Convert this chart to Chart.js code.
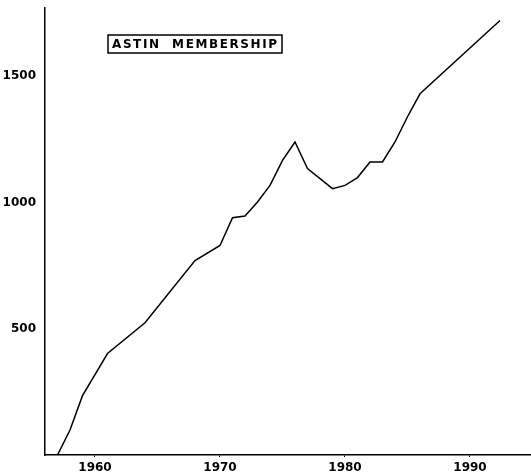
<!DOCTYPE html>
<html>
<head>
<meta charset="utf-8">
<script src="https://cdn.jsdelivr.net/npm/chart.js@4"></script>
<style>
  html, body { margin: 0; padding: 0; background: #fff; }
  #wrap { width: 531px; height: 472px; position: relative; }
</style>
</head>
<body>
<div id="wrap"><canvas id="chart"></canvas></div>
<script>
// ASTIN membership by year
const years = [1957, 1958, 1959, 1961, 1964, 1968, 1970, 1971, 1972, 1973, 1974, 1975, 1976, 1977, 1979, 1980, 1981, 1982, 1983, 1984, 1985, 1986, 1992.4];
const members = [0, 99, 235, 402, 524, 770, 830, 940, 947, 1002, 1068, 1167, 1240, 1135, 1055, 1068, 1099, 1161, 1161, 1240, 1340, 1431, 1721];

const xTicks = [1960, 1970, 1980, 1990];
const yTicks = [500, 1000, 1500];
const titleText = "ASTIN  MEMBERSHIP";

const FONT = "'DejaVu Sans', sans-serif";

// boxed title drawn inside the plot area
const boxTitle = {
  id: "boxTitle",
  afterDraw(chart) {
    const ctx = chart.ctx;
    const x0 = 108, y0 = 35, w = 174, h = 18;
    ctx.save();
    ctx.strokeStyle = "#000";
    ctx.lineWidth = 1.5;
    ctx.strokeRect(x0, y0, w, h);
    ctx.font = "bold 12px " + FONT;
    ctx.fillStyle = "#000";
    ctx.textBaseline = "middle";
    // spread the letters out like the typed label
    const chars = titleText.split("");
    const natural = chars.reduce((s, c) => s + ctx.measureText(c).width, 0);
    const target = 165;
    const gap = (target - natural) / (chars.length - 1);
    let x = x0 + 4;
    for (const c of chars) {
      ctx.fillText(c, x, y0 + h / 2 + 0.5);
      x += ctx.measureText(c).width + gap;
    }
    ctx.restore();
  },
};

const ctx = document.getElementById("chart").getContext("2d");
new Chart(ctx, {
  type: "line",
  data: {
    datasets: [
      {
        data: years.map((y, i) => ({ x: y, y: members[i] })),
        borderColor: "#000",
        borderWidth: 1.5,
        pointRadius: 0,
        tension: 0,
        fill: false,
      },
    ],
  },
  options: {
    responsive: true,
    maintainAspectRatio: false,
    animation: false,
    layout: { padding: { top: 8, right: 0, left: 0, bottom: 0 } },
    plugins: {
      legend: { display: false },
      tooltip: { enabled: false },
      title: { display: false },
    },
    scales: {
      x: {
        type: "linear",
        min: 1956,
        max: 1994.88,
        afterBuildTicks: (scale) => {
          scale.ticks = xTicks.map((v) => ({ value: v }));
        },
        afterFit: (scale) => {
          scale.height = 17;
        },
        ticks: {
          color: "#000",
          padding: 4,
          maxRotation: 0,
          font: { family: FONT, size: 12, weight: "bold" },
          callback: (v) => String(v),
        },
        grid: {
          drawOnChartArea: false,
          color: "#000",
          tickLength: 2,
        },
        border: { color: "#000", width: 1.5 },
      },
      y: {
        type: "linear",
        min: 0,
        max: 1770,
        afterBuildTicks: (scale) => {
          scale.ticks = yTicks.map((v) => ({ value: v }));
        },
        afterFit: (scale) => {
          scale.width = 45;
        },
        ticks: {
          color: "#000",
          padding: 1,
          font: { family: FONT, size: 12, weight: "bold" },
          callback: (v) => String(v),
        },
        grid: {
          drawOnChartArea: false,
          display: false,
        },
        border: { color: "#000", width: 1.5 },
      },
    },
  },
  plugins: [boxTitle],
});
</script>
</body>
</html>
